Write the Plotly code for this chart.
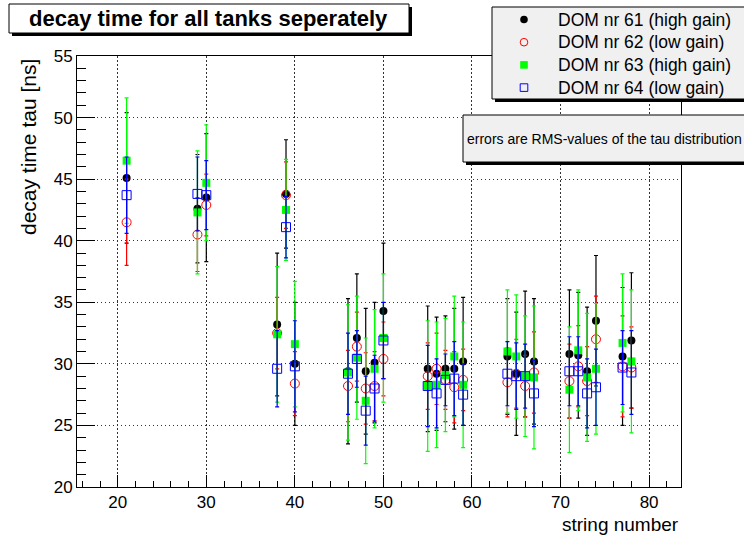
import plotly.graph_objects as go

# ---------------- data ----------------
strings = [21, 29, 30, 38, 39, 40, 46, 47, 48, 49, 50, 55, 56, 57, 58, 59,
           64, 65, 66, 67, 71, 72, 73, 74, 77, 78]

dom61_tau = [45.1, 42.6, 43.5, 33.2, 43.8, 30.0, 29.4, 32.1, 29.4, 30.1, 34.3, 29.6, 29.2,
             29.6, 29.6, 30.2, 30.6, 29.2, 30.8, 30.2, 30.8, 30.7, 29.4, 33.5, 30.6, 31.9]
dom61_rms = [5.3, 4.4, 5.2, 5.8, 4.4, 5.0, 5.9, 5.2, 5.1, 4.9, 5.5, 5.1, 4.6,
             4.3, 4.9, 5.2, 4.7, 5.0, 5.1, 5.1, 5.2, 5.1, 5.2, 5.3, 5.6, 5.5]

dom62_tau = [41.5, 40.5, 42.9, 32.5, 43.7, 28.4, 28.2, 31.4, 28.0, 28.2, 30.4, 29.0, 29.6,
             28.7, 28.1, 28.7, 28.5, 29.2, 28.2, 29.3, 28.6, 29.8, 28.6, 32.0, 29.8, 29.7]
dom62_rms = [3.5, 3.0, 2.5, 2.9, 2.7, 2.6, 2.9, 2.8, 2.9, 2.8, 3.0, 2.7, 2.9,
             2.4, 2.9, 2.5, 2.8, 2.8, 2.5, 3.3, 3.0, 3.3, 2.8, 3.5, 4.1, 3.3]

dom63_tau = [46.5, 42.3, 44.7, 32.4, 42.5, 31.6, 29.3, 30.5, 27.0, 29.6, 32.1, 28.2, 28.3,
             29.1, 30.6, 28.3, 31.0, 30.6, 29.0, 28.9, 27.9, 31.1, 28.9, 29.6, 31.7, 30.2]
dom63_rms = [5.1, 5.0, 4.7, 5.5, 4.1, 5.1, 5.5, 5.0, 5.1, 4.8, 5.2, 5.3, 5.1,
             4.6, 4.9, 5.1, 5.0, 5.0, 4.9, 5.8, 5.1, 4.9, 5.2, 5.3, 5.6, 5.8]

dom64_tau = [43.7, 43.8, 43.7, 29.6, 41.1, 29.8, 29.2, 30.4, 26.2, 28.0, 31.9, 28.2, 27.6,
             28.7, 28.8, 27.5, 29.2, 29.0, 29.0, 27.6, 29.4, 29.4, 27.6, 28.1, 29.7, 29.3]
dom64_rms = [3.1, 3.0, 2.8, 3.1, 2.5, 3.7, 3.3, 2.3, 2.8, 2.7, 3.1, 3.3, 2.8,
             2.1, 3.0, 2.5, 2.6, 2.7, 2.6, 2.7, 2.8, 2.8, 2.8, 3.1, 3.0, 3.4]

series_names = ["DOM nr 61 (high gain)", "DOM nr 62 (low gain)",
                "DOM nr 63 (high gain)", "DOM nr 64 (low gain)"]

title_text = "decay time for all tanks seperately"
note_text = "errors are RMS-values of the tau distribution"
x_title = "string number"
y_title = "decay time tau [ns]"

# ---------------- layout helpers ----------------
W, H = 744, 535
L, R, T, B = 77, 681, 56, 487
FONT = "Liberation Sans, Arial, Helvetica, sans-serif"


def px(x):
    return (x - L) / (R - L)


def py(y):
    return (B - y) / (B - T)


styles = [
    dict(color="#000000", symbol="circle", size=8, line=dict(width=0)),
    dict(color="#ff0000", symbol="circle-open", size=9, line=dict(width=1, color="#ff0000")),
    dict(color="#00ff00", symbol="square", size=8, line=dict(width=0)),
    dict(color="#0000ff", symbol="square-open", size=9, line=dict(width=1, color="#0000ff")),
]

fig = go.Figure()
for name, vals, errs, st in zip(series_names,
                                [dom61_tau, dom62_tau, dom63_tau, dom64_tau],
                                [dom61_rms, dom62_rms, dom63_rms, dom64_rms],
                                styles):
    fig.add_trace(go.Scatter(
        x=strings, y=vals, mode="markers", name=name,
        marker=dict(symbol=st["symbol"], size=st["size"], color=st["color"], line=st["line"]),
        error_y=dict(type="data", array=errs, visible=True, color=st["color"],
                     thickness=1.2, width=2),
        showlegend=False,
    ))

fig.update_layout(
    width=W, height=H,
    margin=dict(l=L, r=W - R, t=T, b=H - B),
    paper_bgcolor="white", plot_bgcolor="white",
    font=dict(family=FONT, color="black"),
    showlegend=False,
)

fig.update_xaxes(
    range=[15.4, 83.6], tick0=0, dtick=10, ticks="inside", ticklen=12, tickwidth=1,
    tickcolor="black", showline=True, linecolor="black", linewidth=1, mirror=True,
    showgrid=True, gridcolor="#333333", gridwidth=1, griddash="2px,2px",
    tickfont=dict(size=17, family=FONT), zeroline=False,
    minor=dict(dtick=2, ticks="inside", ticklen=6, tickcolor="black", showgrid=False),
)
fig.update_yaxes(
    range=[20, 55], tick0=0, dtick=5, ticks="inside", ticklen=18, tickwidth=1,
    tickcolor="black", showline=True, linecolor="black", linewidth=1, mirror=True,
    showgrid=True, gridcolor="#333333", gridwidth=1, griddash="1px,3px",
    tickfont=dict(size=17, family=FONT), zeroline=False,
    minor=dict(dtick=1, ticks="inside", ticklen=9, tickcolor="black", showgrid=False),
)

shapes = []
annots = []

# title box with shadow
shapes.append(dict(type="rect", xref="paper", yref="paper", x0=px(12), x1=px(412),
                   y0=py(36), y1=py(7), fillcolor="black", line=dict(width=0), layer="above"))
shapes.append(dict(type="rect", xref="paper", yref="paper", x0=px(9), x1=px(409),
                   y0=py(33), y1=py(4), fillcolor="white", line=dict(width=1, color="black"),
                   layer="above"))
annots.append(dict(text="<b>%s</b>" % title_text, xref="paper", yref="paper",
                   x=px(208), y=py(19), xanchor="center", yanchor="middle", showarrow=False,
                   font=dict(size=22, family=FONT, color="black")))

# legend box with shadow
shapes.append(dict(type="rect", xref="paper", yref="paper", x0=px(495), x1=px(770),
                   y0=py(102), y1=py(10), fillcolor="black", line=dict(width=0), layer="above"))
shapes.append(dict(type="rect", xref="paper", yref="paper", x0=px(492), x1=px(770),
                   y0=py(99), y1=py(7), fillcolor="#f0f0f0", line=dict(width=1, color="black"),
                   layer="above"))
rows = [19.5, 42.2, 64.9, 87.6]
for i, (name, st) in enumerate(zip(series_names, styles)):
    yc = py(rows[i])
    shp = dict(xref="paper", yref="paper", xsizemode="pixel", ysizemode="pixel",
               xanchor=px(524), yanchor=yc, x0=-3.8, x1=3.8, y0=-3.8, y1=3.8, layer="above")
    if i == 0:
        shp.update(type="circle", fillcolor="black", line=dict(width=0))
    elif i == 1:
        shp.update(type="circle", fillcolor="rgba(0,0,0,0)", line=dict(width=1, color="#ff0000"))
    elif i == 2:
        shp.update(type="rect", fillcolor="#00ff00", line=dict(width=0))
    else:
        shp.update(type="rect", fillcolor="rgba(0,0,0,0)", line=dict(width=1, color="#0000ff"))
    shapes.append(shp)
    annots.append(dict(text=name, xref="paper", yref="paper", x=px(556), y=yc,
                       xanchor="left", yanchor="middle", showarrow=False,
                       font=dict(size=17.5, family=FONT, color="black")))

# note box with shadow
shapes.append(dict(type="rect", xref="paper", yref="paper", x0=px(466), x1=px(770),
                   y0=py(165), y1=py(118), fillcolor="black", line=dict(width=0), layer="above"))
shapes.append(dict(type="rect", xref="paper", yref="paper", x0=px(463), x1=px(770),
                   y0=py(162), y1=py(115), fillcolor="#f0f0f0", line=dict(width=1, color="black"),
                   layer="above"))
annots.append(dict(text=note_text, xref="paper", yref="paper", x=px(604), y=py(138.5),
                   xanchor="center", yanchor="middle", showarrow=False,
                   font=dict(size=14, family=FONT, color="black")))

# axis titles
annots.append(dict(text=y_title, xref="paper", yref="paper", x=px(29), y=py(57),
                   xanchor="center", yanchor="top", textangle=-90, showarrow=False,
                   font=dict(size=21, family=FONT, color="black")))
annots.append(dict(text=x_title, xref="paper", yref="paper", x=px(681), y=py(524),
                   xanchor="right", yanchor="middle", showarrow=False,
                   font=dict(size=19, family=FONT, color="black")))

fig.update_layout(shapes=shapes, annotations=annots)
fig.write_html("out.html")
